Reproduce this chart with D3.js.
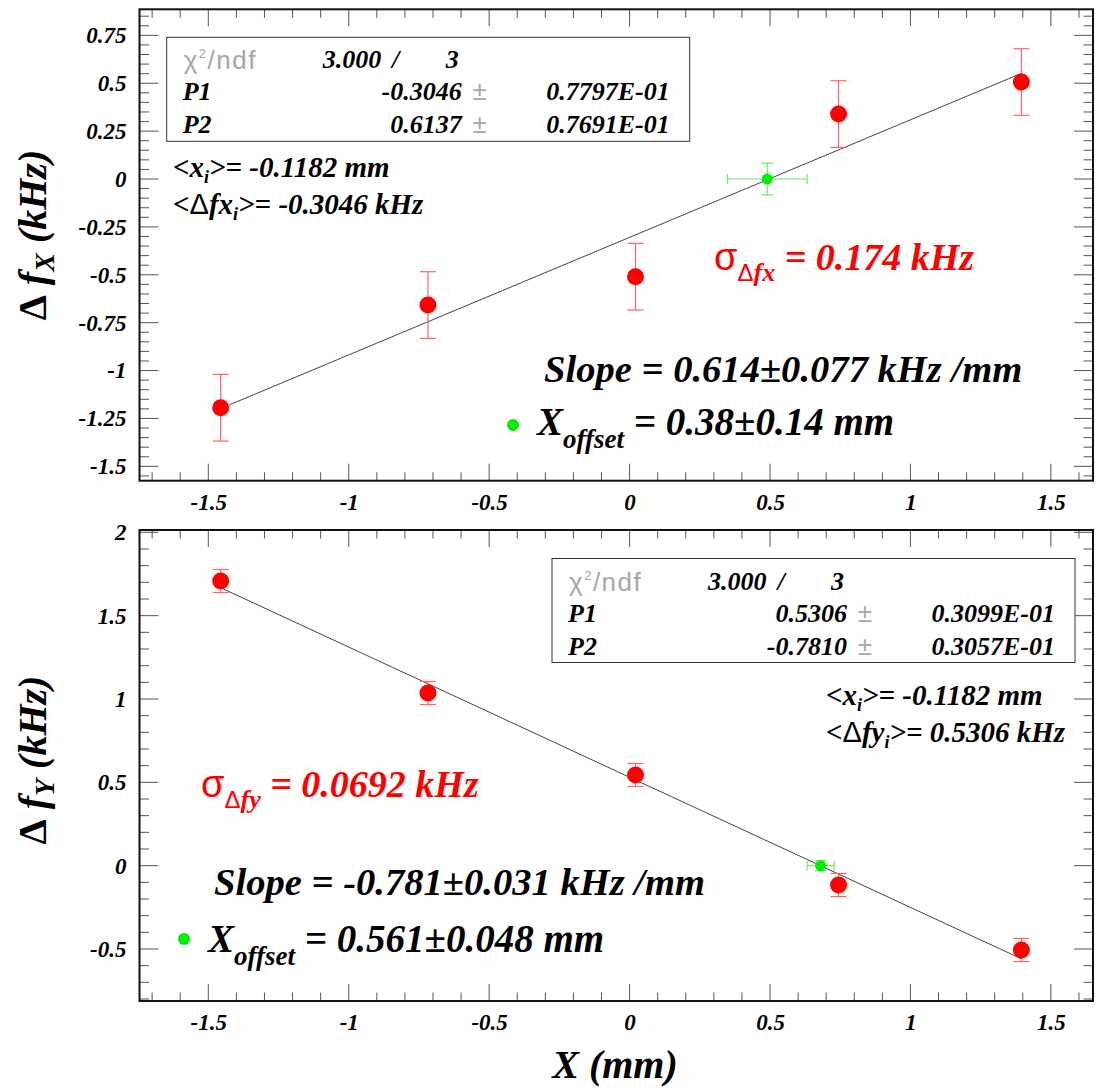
<!DOCTYPE html>
<html>
<head>
<meta charset="utf-8">
<script src="https://cdn.jsdelivr.net/npm/d3@7"></script>
<style>
  body { margin: 0; background: #fff; }
</style>
</head>
<body>
<div id="my_dataviz"></div>
<script>
// measured points, shared by both panels (mm)
var xPos = [-1.456, -0.718, 0.021, 0.744, 1.395];

// top panel: delta f_X (kHz)
var dfX = [-1.194, -0.658, -0.51, 0.339, 0.506];
var dfXErr = [0.174, 0.174, 0.174, 0.174, 0.174];
var fitX = [-0.3046, 0.6137];
var offX = [0.49]; // green point x
var offXErrX = [0.142];
var offXErrY = [0.083];

// bottom panel: delta f_Y (kHz)
var dfY = [1.708, 1.036, 0.544, -0.116, -0.506];
var dfYErr = [0.0692, 0.0692, 0.0692, 0.0692, 0.0692];
var fitY = [0.5306, -0.781];
var offY = [0.68];
var offYErrX = [0.048];
var offYErrY = [0.03];

// tick values
var xTicks = [-1.5, -1, -0.5, 0, 0.5, 1, 1.5];
var yTicksTop = [0.75, 0.5, 0.25, 0, -0.25, -0.5, -0.75, -1, -1.25, -1.5];
var yTicksBottom = [2, 1.5, 1, 0.5, 0, -0.5];

var SERIF = "Liberation Serif";
var SANS = "Liberation Sans";

var width = 1104, height = 1088;

var svg = d3
  .select("#my_dataviz")
  .append("svg")
  .attr("id", "svg")
  .attr("width", width)
  .attr("height", height);

svg.append("rect").attr("width", width).attr("height", height).attr("fill", "#fff");

var x = d3.scaleLinear().domain([-1.745, 1.65]).range([139.5, 1093]);

function minorTicks(domain, step) {
  var out = [];
  var lo = Math.ceil(domain[0] / step - 1e-6), hi = Math.floor(domain[1] / step + 1e-6);
  for (var i = lo; i <= hi; i++) out.push(+(i * step).toFixed(4));
  return out;
}

// bold italic serif, like ROOT font 32
function bi(sel, size) {
  return sel
    .attr("font-family", SERIF)
    .attr("font-weight", "bold")
    .attr("font-style", "italic")
    .attr("font-size", size);
}

function buildPanel(p) {
  var y = d3.scaleLinear().domain(p.yDomain).range(p.yRange);
  var g = svg.append("g");
  var top = p.yRange[1], bottom = p.yRange[0];
  var left = x.range()[0], right = x.range()[1];

  // ticks on all four sides
  var xm = minorTicks(x.domain(), 0.1);
  var ym = minorTicks(p.yDomain, p.yMinor);
  var tk = g.append("g").attr("stroke", "#555").attr("stroke-width", 1);
  xm.forEach(function (v) {
    var major = Math.abs(v / 0.5 - Math.round(v / 0.5)) < 1e-6;
    var len = major ? 17 : 8.5;
    tk.append("line").attr("x1", x(v)).attr("x2", x(v)).attr("y1", bottom).attr("y2", bottom - len);
    tk.append("line").attr("x1", x(v)).attr("x2", x(v)).attr("y1", top).attr("y2", top + len);
  });
  ym.forEach(function (v) {
    var major = Math.abs(v / p.yMajor - Math.round(v / p.yMajor)) < 1e-6;
    var len = major ? 19 : 9.5;
    tk.append("line").attr("x1", left).attr("x2", left + len).attr("y1", y(v)).attr("y2", y(v));
    tk.append("line").attr("x1", right).attr("x2", right - len).attr("y1", y(v)).attr("y2", y(v));
  });

  // axis labels via d3 axes (ticks drawn above)
  var fmt = function (d) { return String(d); };
  var ax = g
    .append("g")
    .attr("transform", "translate(0," + bottom + ")")
    .call(d3.axisBottom(x).tickValues(xTicks).tickSize(0).tickPadding(13).tickFormat(fmt));
  var ay = g
    .append("g")
    .attr("transform", "translate(" + left + ",0)")
    .call(d3.axisLeft(y).tickValues(p.yTicks).tickSize(0).tickPadding(13).tickFormat(fmt));
  [ax, ay].forEach(function (a) {
    bi(a, 23);
    a.select(".domain").remove();
    a.selectAll("text").attr("fill", "#000");
  });

  // frame
  g.append("rect")
    .attr("x", left)
    .attr("y", top)
    .attr("width", right - left)
    .attr("height", bottom - top)
    .attr("fill", "none")
    .attr("stroke", "#111")
    .attr("stroke-width", 2);

  // fit line
  var xs = d3.extent(p.xs);
  g.append("path")
    .datum(xs)
    .attr("fill", "none")
    .attr("stroke", "#444")
    .attr("stroke-width", 1)
    .attr("d", d3.line()
      .x(function (d) { return x(d); })
      .y(function (d) { return y(p.fit[0] + p.fit[1] * d); }));

  // red points with error bars
  var pts = p.xs.map(function (d, i) { return { x: d, y: p.ys[i], e: p.es[i] }; });
  var eb = g.append("g").attr("stroke", "#ff6464").attr("stroke-width", 1.2);
  pts.forEach(function (d) {
    eb.append("line").attr("x1", x(d.x)).attr("x2", x(d.x)).attr("y1", y(d.y - d.e)).attr("y2", y(d.y + d.e));
    eb.append("line").attr("x1", x(d.x) - 8).attr("x2", x(d.x) + 8).attr("y1", y(d.y - d.e)).attr("y2", y(d.y - d.e));
    eb.append("line").attr("x1", x(d.x) - 8).attr("x2", x(d.x) + 8).attr("y1", y(d.y + d.e)).attr("y2", y(d.y + d.e));
  });
  g.selectAll(".pt")
    .data(pts)
    .enter()
    .append("circle")
    .attr("cx", function (d) { return x(d.x); })
    .attr("cy", function (d) { return y(d.y); })
    .attr("r", 8.5)
    .attr("fill", "#ff0000");

  // green offset point
  var ox = p.off[0], ex = p.offEx[0], ey = p.offEy[0];
  var gb = g.append("g").attr("stroke", "#66ee66").attr("stroke-width", 1.2);
  gb.append("line").attr("x1", x(ox - ex)).attr("x2", x(ox + ex)).attr("y1", y(0)).attr("y2", y(0));
  gb.append("line").attr("x1", x(ox)).attr("x2", x(ox)).attr("y1", y(-ey)).attr("y2", y(ey));
  gb.append("line").attr("x1", x(ox - ex)).attr("x2", x(ox - ex)).attr("y1", y(0) - 5).attr("y2", y(0) + 5);
  gb.append("line").attr("x1", x(ox + ex)).attr("x2", x(ox + ex)).attr("y1", y(0) - 5).attr("y2", y(0) + 5);
  gb.append("line").attr("x1", x(ox) - 6).attr("x2", x(ox) + 6).attr("y1", y(ey)).attr("y2", y(ey));
  gb.append("line").attr("x1", x(ox) - 6).attr("x2", x(ox) + 6).attr("y1", y(-ey)).attr("y2", y(-ey));
  g.append("circle").attr("cx", x(ox)).attr("cy", y(0)).attr("r", 5.5).attr("fill", "#00ee00");

  return g;
}

function statsBox(bx, by, p1, p1e, p2, p2e) {
  var g = svg.append("g");
  g.append("rect").attr("x", bx).attr("y", by).attr("width", 523).attr("height", 104)
    .attr("fill", "#fff").attr("stroke", "#333").attr("stroke-width", 1);
  var chi = g.append("text").attr("x", bx + 17).attr("y", by + 32)
    .attr("font-family", SANS).attr("font-size", 26).attr("letter-spacing", 1.5).attr("fill", "#a6a6a6");
  chi.append("tspan").text("χ");
  chi.append("tspan").attr("dy", -11).attr("font-size", 13).text("2");
  chi.append("tspan").attr("dy", 11).text("/ndf");
  bi(g.append("text").attr("x", bx + 156).attr("y", by + 31), 26).text("3.000");
  bi(g.append("text").attr("x", bx + 229).attr("y", by + 31).attr("text-anchor", "middle"), 26).text("/");
  bi(g.append("text").attr("x", bx + 292).attr("y", by + 31).attr("text-anchor", "end"), 26).text("3");
  var rows = [["P1", p1, p1e], ["P2", p2, p2e]];
  rows.forEach(function (r, i) {
    var yy = by + 63 + i * 33;
    bi(g.append("text").attr("x", bx + 16).attr("y", yy), 26).text(r[0]);
    bi(g.append("text").attr("x", bx + 295).attr("y", yy).attr("text-anchor", "end"), 26).text(r[1]);
    g.append("text").attr("x", bx + 313).attr("y", yy).attr("text-anchor", "middle")
      .attr("font-family", SANS).attr("font-size", 26).attr("fill", "#a6a6a6").text("±");
    bi(g.append("text").attr("x", bx + 503).attr("y", yy).attr("text-anchor", "end"), 26).text(r[2]);
  });
}

function meanText(tx, ty, sym, val1, val2) {
  var t1 = bi(svg.append("text").attr("x", tx).attr("y", ty), 29);
  t1.append("tspan").text("<x");
  t1.append("tspan").attr("dy", 6).attr("font-size", 18).text("i");
  t1.append("tspan").attr("dy", -6).text(">= " + val1 + " mm");
  var t2 = bi(svg.append("text").attr("x", tx).attr("y", ty + 37), 29);
  t2.append("tspan").text("<");
  t2.append("tspan").attr("font-style", "normal").attr("font-family", SANS).attr("font-weight", "normal").text("Δ");
  t2.append("tspan").text("f" + sym);
  t2.append("tspan").attr("dy", 6).attr("font-size", 18).text("i");
  t2.append("tspan").attr("dy", -6).text(">= " + val2 + " kHz");
}

function sigmaText(tx, ty, sub, val) {
  var t = svg.append("text").attr("x", tx).attr("y", ty).attr("fill", "#ff0000");
  t.append("tspan").attr("font-family", SANS).attr("font-size", 38).text("σ");
  t.append("tspan").attr("dy", 11).attr("font-family", SANS).attr("font-size", 24).text("Δ");
  bi(t.append("tspan"), 26).text(sub);
  bi(t.append("tspan").attr("dy", -11), 38).text(" = " + val + " kHz");
}

function slopeText(tx, ty, val) {
  bi(svg.append("text").attr("x", tx).attr("y", ty), 38.6).text("Slope = " + val + " kHz /mm");
}

function offsetText(dx, dy, tx, ty, val) {
  svg.append("circle").attr("cx", dx).attr("cy", dy).attr("r", 6).attr("fill", "#00ee00");
  var t = bi(svg.append("text").attr("x", tx).attr("y", ty), 39);
  t.append("tspan").text("X");
  t.append("tspan").attr("dy", 13).attr("font-size", 27).text("offset");
  t.append("tspan").attr("dy", -13).text(" = " + val + " mm");
}

function yTitle(cx, cy, sub) {
  var t = bi(svg.append("text")
    .attr("transform", "translate(" + cx + "," + cy + ") rotate(-90)")
    .attr("text-anchor", "middle"), 40);
  t.append("tspan").attr("font-style", "normal").text("Δ");
  t.append("tspan").text(" f");
  t.append("tspan").attr("dy", 8).attr("font-size", 28).text(sub);
  t.append("tspan").attr("dy", -8).text(" (kHz)");
}

// top panel
buildPanel({
  xs: xPos, ys: dfX, es: dfXErr, fit: fitX,
  off: offX, offEx: offXErrX, offEy: offXErrY,
  yDomain: [-1.575, 0.886], yRange: [480.7, 9.3],
  yTicks: yTicksTop, yMajor: 0.25, yMinor: 0.05
});
// bottom panel
buildPanel({
  xs: xPos, ys: dfY, es: dfYErr, fit: fitY,
  off: offY, offEx: offYErrX, offEy: offYErrY,
  yDomain: [-0.812, 2.014], yRange: [1001, 530],
  yTicks: yTicksBottom, yMajor: 0.5, yMinor: 0.1
});

statsBox(166.7, 37.3, "-0.3046", "0.7797E-01", "0.6137", "0.7691E-01");
statsBox(552, 558.5, "0.5306", "0.3099E-01", "-0.7810", "0.3057E-01");

meanText(173, 177, "x", "-0.1182", "-0.3046");
meanText(826, 705, "y", "-0.1182", "0.5306");

sigmaText(714, 270, "fx", "0.174");
sigmaText(201, 797, "fy", "0.0692");

slopeText(544, 382, "0.614±0.077");
slopeText(214, 895, "-0.781±0.031");

offsetText(513, 425, 537, 435, "0.38±0.14");
offsetText(184, 939, 208, 952, "0.561±0.048");

yTitle(46, 235, "X");
yTitle(46, 760, "Y");

// x axis title
bi(svg.append("text").attr("x", 615).attr("y", 1078).attr("text-anchor", "middle"), 40).text("X (mm)");
</script>
</body>
</html>
